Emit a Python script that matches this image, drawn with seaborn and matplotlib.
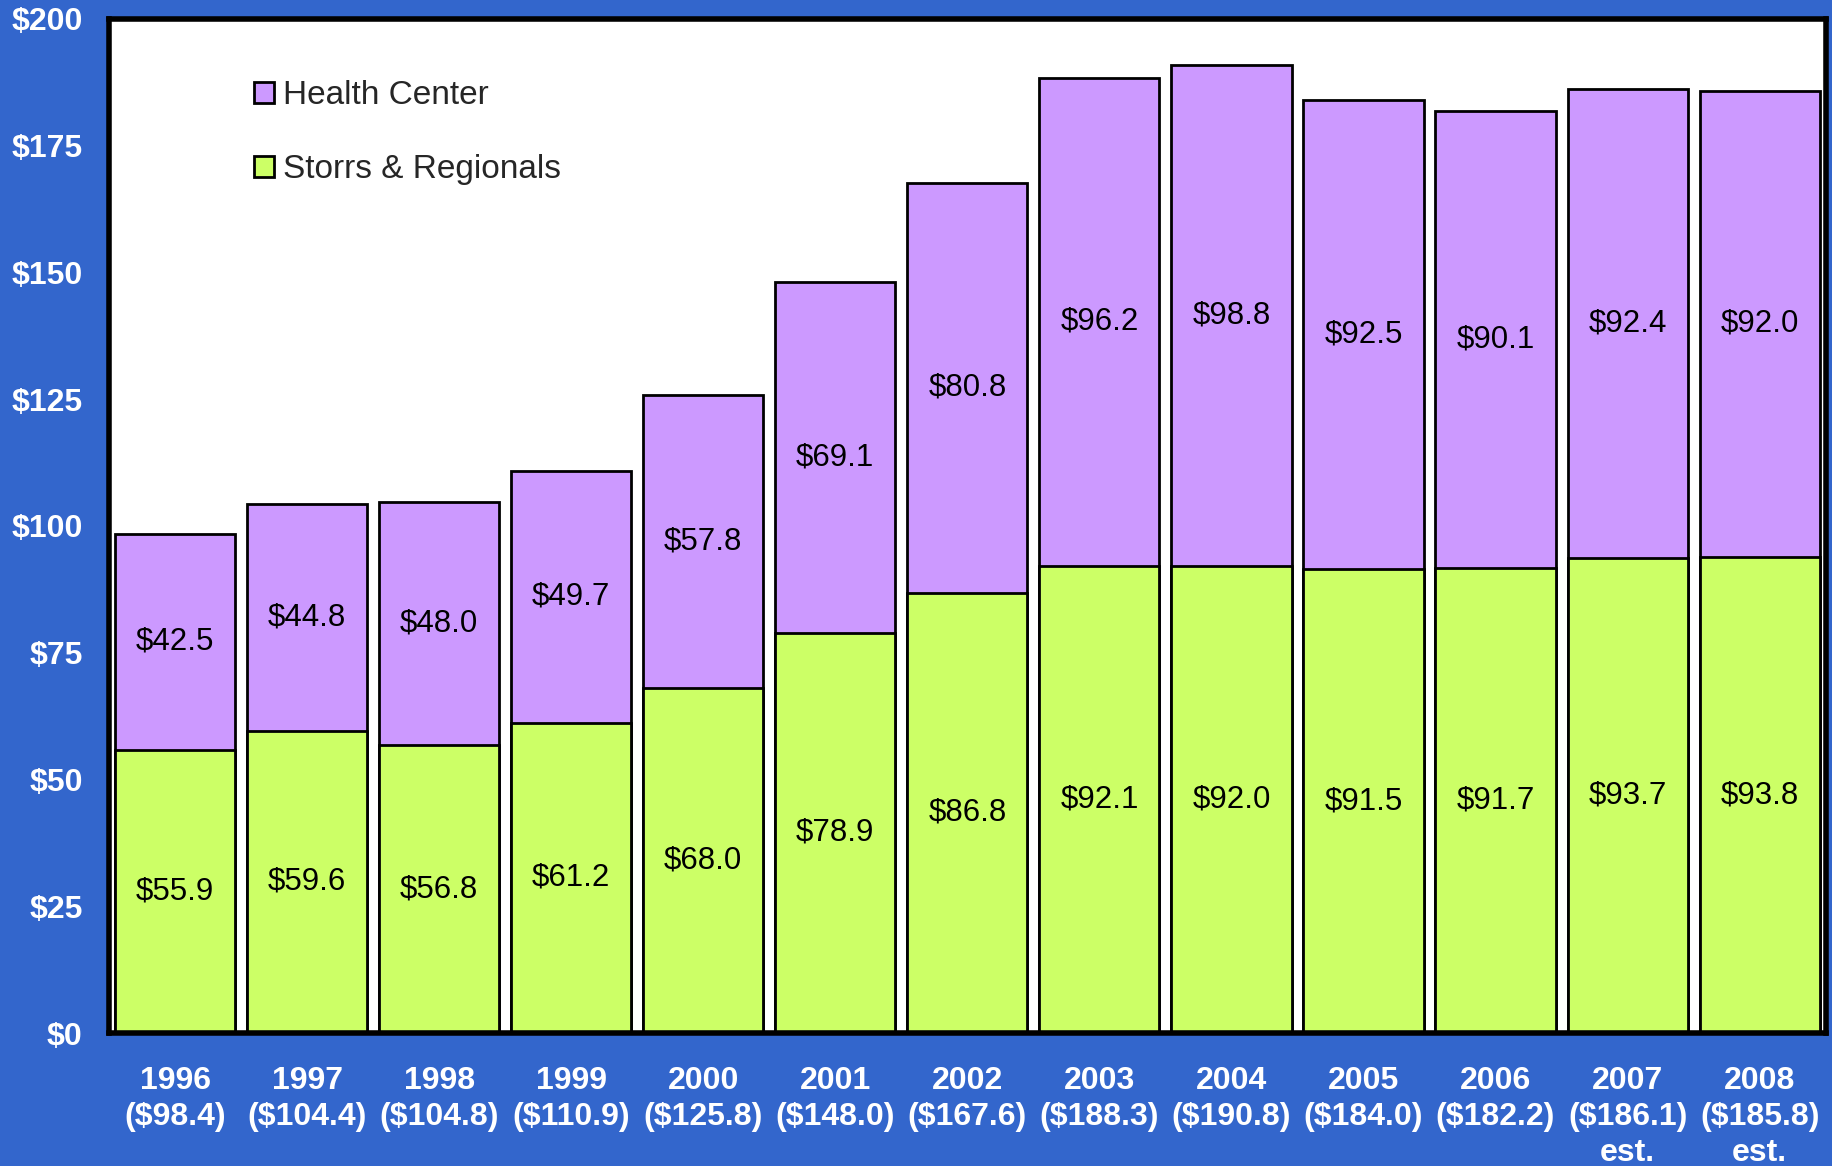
import numpy as np
import pandas as pd
import seaborn as sns
import matplotlib.pyplot as plt

# data ($ millions)
years = ["1996", "1997", "1998", "1999", "2000", "2001", "2002",
         "2003", "2004", "2005", "2006", "2007", "2008"]
storrs = [55.9, 59.6, 56.8, 61.2, 68.0, 78.9, 86.8, 92.1, 92.0, 91.5, 91.7, 93.7, 93.8]
health = [42.5, 44.8, 48.0, 49.7, 57.8, 69.1, 80.8, 96.2, 98.8, 92.5, 90.1, 92.4, 92.0]
totals = [98.4, 104.4, 104.8, 110.9, 125.8, 148.0, 167.6,
          188.3, 190.8, 184.0, 182.2, 186.1, 185.8]
est_years = ["2007", "2008"]

blue = "#3366CC"
purple = "#CC99FF"
green = "#CCFF66"

df = pd.DataFrame({"year": years, "storrs": storrs, "health": health})
df["top"] = df["storrs"] + df["health"]

sns.set_style("white")
plt.rcParams["font.family"] = ["Liberation Sans", "DejaVu Sans"]

fig = plt.figure(figsize=(18.33, 11.66), dpi=100, facecolor=blue)
ax = fig.add_axes([0.0595, 0.114, 0.9365, 0.870])
ax.set_facecolor("white")

# full stack first (purple), then the green base on top of it
sns.barplot(data=df, x="year", y="top", color=purple, width=0.91,
            edgecolor="black", linewidth=2, saturation=1, label="Health Center", ax=ax)
sns.barplot(data=df, x="year", y="storrs", color=green, width=0.91,
            edgecolor="black", linewidth=2, saturation=1, label="Storrs & Regionals", ax=ax)

# segment labels
for i in range(len(years)):
    ax.text(i, storrs[i] / 2, "${:.1f}".format(storrs[i]), ha="center", va="center",
            fontsize=22.5, color="black")
    ax.text(i, storrs[i] + health[i] / 2, "${:.1f}".format(health[i]), ha="center",
            va="center", fontsize=22.5, color="black")

ax.set_ylim(0, 200)
ax.set_xlim(-0.5, len(years) - 0.5)
ax.set_yticks(np.arange(0, 201, 25))
ax.set_yticklabels(["${}".format(v) for v in range(0, 201, 25)])

labels = []
for y, t in zip(years, totals):
    lab = "{}\n(${:.1f})".format(y, t)
    if y in est_years:
        lab += "\nest."
    labels.append(lab)
ax.set_xticks(range(len(years)))
ax.set_xticklabels(labels, va="top", linespacing=1.25)
ax.set_xticks(np.arange(-0.5, len(years), 1), minor=True)

ax.tick_params(axis="x", which="major", length=0, pad=24, labelsize=23, labelcolor="white")
ax.tick_params(axis="x", which="minor", length=8, width=1, color="black", direction="out")
ax.tick_params(axis="y", length=8, width=1, color="black", pad=11, labelsize=23,
               labelcolor="white")
for lab in ax.get_xticklabels() + ax.get_yticklabels():
    lab.set_fontweight("bold")

ax.set_xlabel("")
ax.set_ylabel("")
for s in ax.spines.values():
    s.set_visible(True)
    s.set_color("black")
    s.set_linewidth(4)

handles, names = ax.get_legend_handles_labels()
leg = ax.legend(handles, names, loc="upper left", bbox_to_anchor=(0.075, 0.956),
                frameon=False, fontsize=24, handlelength=0.6, handleheight=0.6,
                handletextpad=0.25, labelspacing=1.3, borderpad=0)

fig.savefig("out.png", dpi=100, facecolor=blue)
